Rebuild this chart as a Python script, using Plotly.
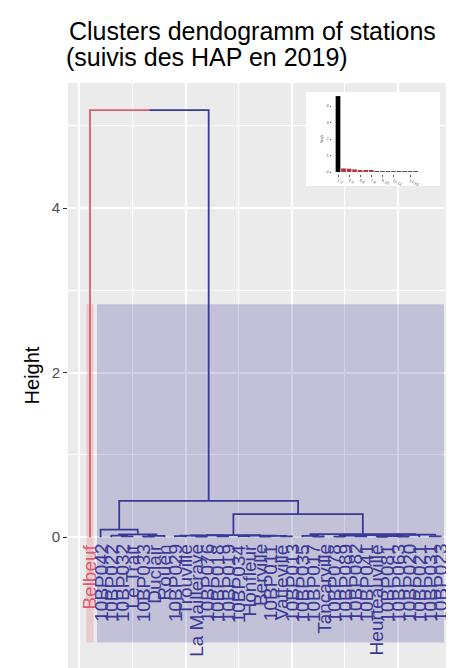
import plotly.graph_objects as go

# ---------------- data ----------------
leaf_labels = [
    "Belbeuf", "10BP042", "10BP022", "10BP032", "Le Trait", "10BP033", "Duclair", "Rouen",
    "10BP029", "Trouville", "La Mailleraye", "10BP076", "10BP018", "10BP019", "10BP034",
    "Honfleur", "Berville", "10BP011", "Vatteville", "10BP013", "10BP035", "10BP017",
    "Tancarville", "10BP078", "10BP089", "10BP082", "10BP041", "Heurteauville", "10BP081",
    "10BP063", "10BP020", "10BP021", "10BP031", "10BP023",
]
leaf_cluster = [1] + [2] * 33

# hclust-style merge table (negative = leaf index, positive = earlier merge row)
merge_left = [-4, -6, -3, 2, 3, -2, -9, -11, 7, -13, 9, -15, -17, -19, 13, 12, 11,
              -22, -21, -24, -26, 20, -28, -30, 23, 22, 26, -33, 27, 19, 17, 6, -1]
merge_right = [-5, -7, 1, -8, 4, 5, -10, -12, 8, -14, 10, -16, -18, -20, 14, 15, 16,
               -23, 18, -25, -27, 21, -29, -31, 24, 25, -32, -34, 28, 29, 30, 31, 32]
merge_height = [0.010, 0.008, 0.020, 0.016, 0.034, 0.091, 0.012, 0.006, 0.018, 0.009,
                0.022, 0.014, 0.007, 0.010, 0.015, 0.020, 0.026, 0.008, 0.015, 0.006,
                0.010, 0.018, 0.005, 0.007, 0.012, 0.024, 0.028, 0.009, 0.032, 0.036,
                0.280, 0.440, 5.190]

rect_top = 2.83
rect_bottom = -1.28

y_tick_values = [0, 2, 4]

# inset bar chart
inset_heights = [4.6, 0.22, 0.20, 0.16, 0.12, 0.09, 0.08, 0.06, 0.05, 0.05, 0.04,
                 0.04, 0.03, 0.03, 0.03]
inset_group = ["top", "red", "red", "red", "red", "red", "red", "low", "low", "low",
               "low", "low", "low", "low", "low"]
inset_tick_pos = [1, 3, 5, 7, 9, 11, 14]
inset_tick_text = ["1.2", "3.4", "5.6", "7.8", "9.10", "11.12", "14.15"]
inset_y_ticks = [0, 1, 2, 3, 4]

# ---------------- styling / geometry ----------------
FONT = "Liberation Sans, Arial, sans-serif"
OFF = 8                                   # page body margin of the html page
W, H = 454 - OFF, 668 - OFF
# panel box in screen pixels
SPL, SPR, SPT, SPB = 68, 452, 83, 668
PL, PR, PT, PB = SPL - OFF, SPR - OFF, SPT - OFF, SPB - OFF
X_RANGE = [-1.07, 35.08]
Y_RANGE = [-1.59, 5.52]
cluster_colors = {1: "#DD5C70", 2: "#3B3998"}
cluster_fills = {1: "rgba(221,92,112,0.23)", 2: "rgba(59,57,152,0.23)"}
inset_colors = {"top": "#000000", "red": "#B8333F", "low": "#555555"}


def sx_to_paper(p):
    return (p - OFF - PL) / (PR - PL)


def sy_to_paper(p):
    return (PB - (p - OFF)) / (PB - PT)


# ---------------- build dendrogram segments ----------------
node_x, node_h, node_c = {}, {}, {}
seg = {1: ([], []), 2: ([], [])}


def child_info(c):
    if c < 0:
        i = -c
        return float(i), 0.0, leaf_cluster[i - 1]
    return node_x[c], node_h[c], node_c[c]


for row, (l, r, h) in enumerate(zip(merge_left, merge_right, merge_height), start=1):
    lx, lh, lc = child_info(l)
    rx, rh, rc = child_info(r)
    px = (lx + rx) / 2.0
    node_x[row], node_h[row] = px, h
    node_c[row] = lc if lc == rc else 0
    for cx, ch, cc in ((lx, lh, lc), (rx, rh, rc)):
        xs, ys = seg[cc]
        xs += [cx, cx, px, None]
        ys += [ch, h, h, None]

fig = go.Figure()
for cl in (1, 2):
    xs, ys = seg[cl]
    fig.add_trace(go.Scatter(x=xs, y=ys, mode="lines",
                             line=dict(color=cluster_colors[cl], width=1.8),
                             hoverinfo="skip", showlegend=False))

# panel background + cluster rectangles
shapes = [dict(type="rect", xref="paper", yref="paper", x0=0, x1=1, y0=0, y1=1,
               fillcolor="#EBEBEB", line=dict(width=0), layer="below")]
for cl in sorted(set(leaf_cluster)):
    idx = [i + 1 for i, c in enumerate(leaf_cluster) if c == cl]
    shapes.append(dict(type="rect", xref="x", yref="y",
                       x0=min(idx) - 1 + 0.66, x1=max(idx) + 0.33,
                       y0=rect_bottom, y1=rect_top,
                       fillcolor=cluster_fills[cl], line=dict(width=0),
                       layer="between"))

# leaf labels
annotations = []
for i, (lab, cl) in enumerate(zip(leaf_labels, leaf_cluster), start=1):
    annotations.append(dict(x=i, y=-0.06, xref="x", yref="y", text=lab,
                            textangle=-90, showarrow=False, xanchor="center",
                            yanchor="top",
                            font=dict(family=FONT, size=19, color=cluster_colors[cl])))

# second title line
annotations.append(dict(x=sx_to_paper(64), y=sy_to_paper(41), xref="paper", yref="paper",
                        text="(suivis des HAP en 2019)", showarrow=False,
                        xanchor="left", yanchor="top",
                        font=dict(family=FONT, size=25, color="#000000")))

# inset bars
fig.add_trace(go.Bar(x=list(range(1, len(inset_heights) + 1)), y=inset_heights,
                     marker=dict(color=[inset_colors[g] for g in inset_group],
                                 line=dict(width=0)),
                     width=0.85, xaxis="x2", yaxis="y2", hoverinfo="skip",
                     showlegend=False))

# inset geometry (screen pixels of white panel; bar 1 at px 338, 0 at px 172)
IX0, IX1, IY0, IY1 = 306, 440, 92, 186
bar_px, bar_step = 338, 5.54
zero_py, y_step = 172, 16.5
inset_xr = [1 - (bar_px - IX0) / bar_step, 1 + (IX1 - bar_px) / bar_step]
inset_yr = [-(IY1 - zero_py) / y_step, (zero_py - IY0) / y_step]

fig.update_layout(
    width=W, height=H,
    margin=dict(l=PL, r=W - PR, t=PT, b=H - PB, pad=0),
    paper_bgcolor="white", plot_bgcolor="white",
    showlegend=False,
    title=dict(text="Clusters dendogramm of stations", x=sx_to_paper(69), xref="paper",
               xanchor="left", y=1 - 14 / H, yref="container", yanchor="top",
               font=dict(family=FONT, size=25, color="#000000")),
    xaxis=dict(range=X_RANGE, showticklabels=False, ticks="", zeroline=False,
               showline=False, tickmode="array", tickvals=[0, 10, 20, 30],
               showgrid=True, gridcolor="white", gridwidth=1.8,
               minor=dict(tickmode="array", tickvals=[5, 15, 25, 35], showgrid=True,
                          gridcolor="white", gridwidth=0.9, ticks="")),
    yaxis=dict(range=Y_RANGE, tickmode="array", tickvals=y_tick_values,
               ticks="outside", ticklen=4, tickwidth=1.1, tickcolor="#333333",
               tickfont=dict(family=FONT, size=15, color="#4D4D4D"),
               showgrid=True, gridcolor="white", gridwidth=1.8, zeroline=False,
               showline=False,
               minor=dict(tickmode="array", tickvals=[1, 3, 5], showgrid=True,
                          gridcolor="white", gridwidth=0.9, ticks=""),
               title=dict(text="Height", standoff=6,
                          font=dict(family=FONT, size=20, color="#000000"))),
    xaxis2=dict(domain=[sx_to_paper(IX0), sx_to_paper(IX1)], range=inset_xr,
                anchor="free", position=sy_to_paper(174),
                tickmode="array", tickvals=inset_tick_pos, ticktext=inset_tick_text,
                ticks="outside", ticklen=1.5, tickwidth=0.5, tickcolor="#555555",
                tickfont=dict(family=FONT, size=4, color="#555555"),
                showgrid=False, zeroline=False, showline=False),
    yaxis2=dict(domain=[sy_to_paper(IY1), sy_to_paper(IY0)], range=inset_yr,
                anchor="free", position=sx_to_paper(331),
                tickmode="array", tickvals=inset_y_ticks,
                ticks="outside", ticklen=1.5, tickwidth=0.5, tickcolor="#555555",
                tickfont=dict(family=FONT, size=4, color="#555555"),
                showgrid=False, zeroline=False, showline=False,
                title=dict(text="Height", standoff=2,
                           font=dict(family=FONT, size=3, color="#555555"))),
    shapes=shapes,
    annotations=annotations,
    bargap=0.15,
)

fig.write_html("out.html")
